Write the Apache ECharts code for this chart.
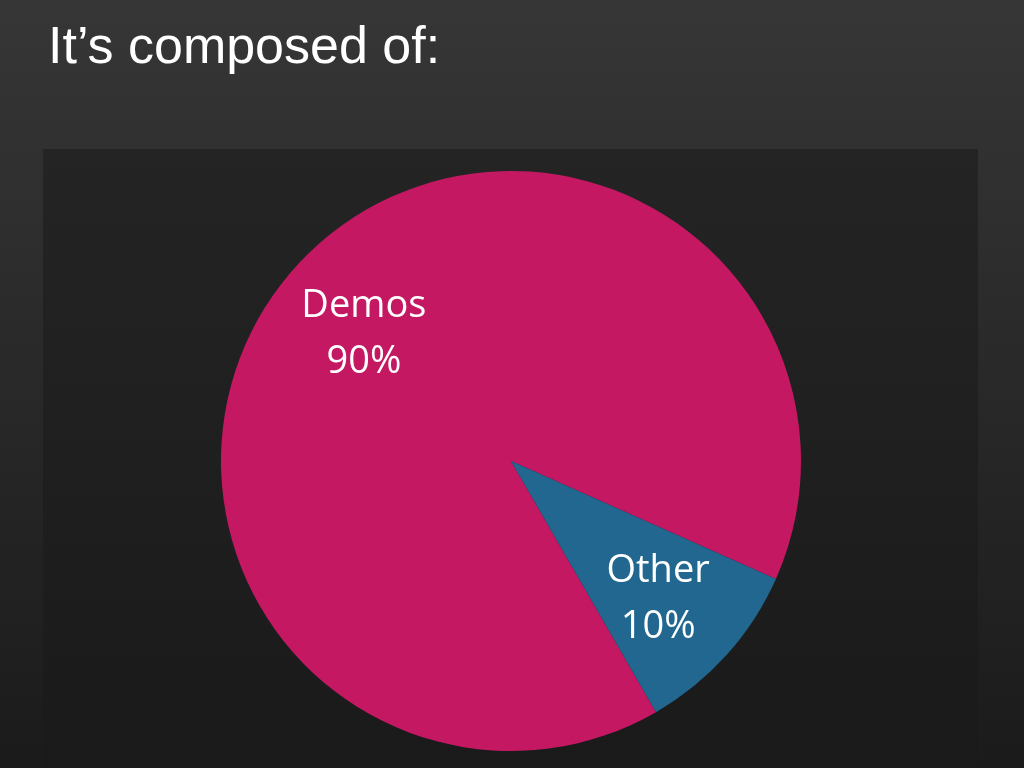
<!DOCTYPE html>
<html>
<head>
<meta charset="utf-8">
<script src="https://cdn.jsdelivr.net/npm/echarts@6/dist/echarts.min.js"></script>
<style>
html,body{margin:0;padding:0;width:1024px;height:768px;overflow:hidden;background:#222;}
#chart{width:1024px;height:768px;}
</style>
</head>
<body>
<div id="chart"></div>
<script>
const titleText = "It’s composed of:";
const categories = ["Demos", "Other"];
const values = [90, 10];
const percentLabels = ["90%", "10%"];
const sliceColors = ["#C41863", "#216790"];

const chart = echarts.init(document.getElementById('chart'), null, {renderer: 'canvas'});
const pieData = categories.map((c, i) => ({name: c, value: values[i], itemStyle: {color: sliceColors[i]}}));
const labelData = categories.map((c, i) => ({name: c, value: values[i]}));

chart.setOption({
  backgroundColor: {
    type: 'linear', x: 0, y: 0, x2: 0, y2: 1,
    colorStops: [{offset: 0, color: '#363636'}, {offset: 1, color: '#1b1b1b'}]
  },
  title: {
    text: titleText, left: 43, top: 18,
    textStyle: {color: '#ffffff', fontFamily: 'Liberation Sans, Arial, sans-serif', fontSize: 52, fontWeight: 'normal'}
  },
  graphic: [{
    type: 'rect', z: -10, silent: true,
    shape: {x: 43, y: 149, width: 935, height: 619},
    style: {fill: {
      type: 'linear', x: 0, y: 0, x2: 0, y2: 1,
      colorStops: [{offset: 0, color: '#242424'}, {offset: 1, color: '#1a1a1a'}]
    }}
  }],
  series: [
    {
      type: 'pie', center: [511, 461], radius: [0, 290], startAngle: -60, clockwise: true,
      silent: true, animation: false,
      label: {show: false}, labelLine: {show: false},
      itemStyle: {borderWidth: 0},
      data: pieData
    },
    {
      type: 'pie', center: [511, 461], radius: [100, 290], startAngle: -60, clockwise: true,
      silent: true, animation: false, z: 5,
      itemStyle: {color: 'rgba(0,0,0,0)', borderWidth: 0},
      labelLine: {show: false},
      label: {
        show: true, position: 'inside',
        formatter: p => '{s| }\n{t|' + p.name + '}\n{t|' + percentLabels[p.dataIndex] + '}',
        rich: {
          s: {fontSize: 10, lineHeight: 12},
          t: {color: '#ffffff', fontFamily: 'Open Sans, Noto Sans, sans-serif', fontSize: 38, lineHeight: 56}
        }
      },
      data: labelData
    }
  ]
});
</script>
</body>
</html>
